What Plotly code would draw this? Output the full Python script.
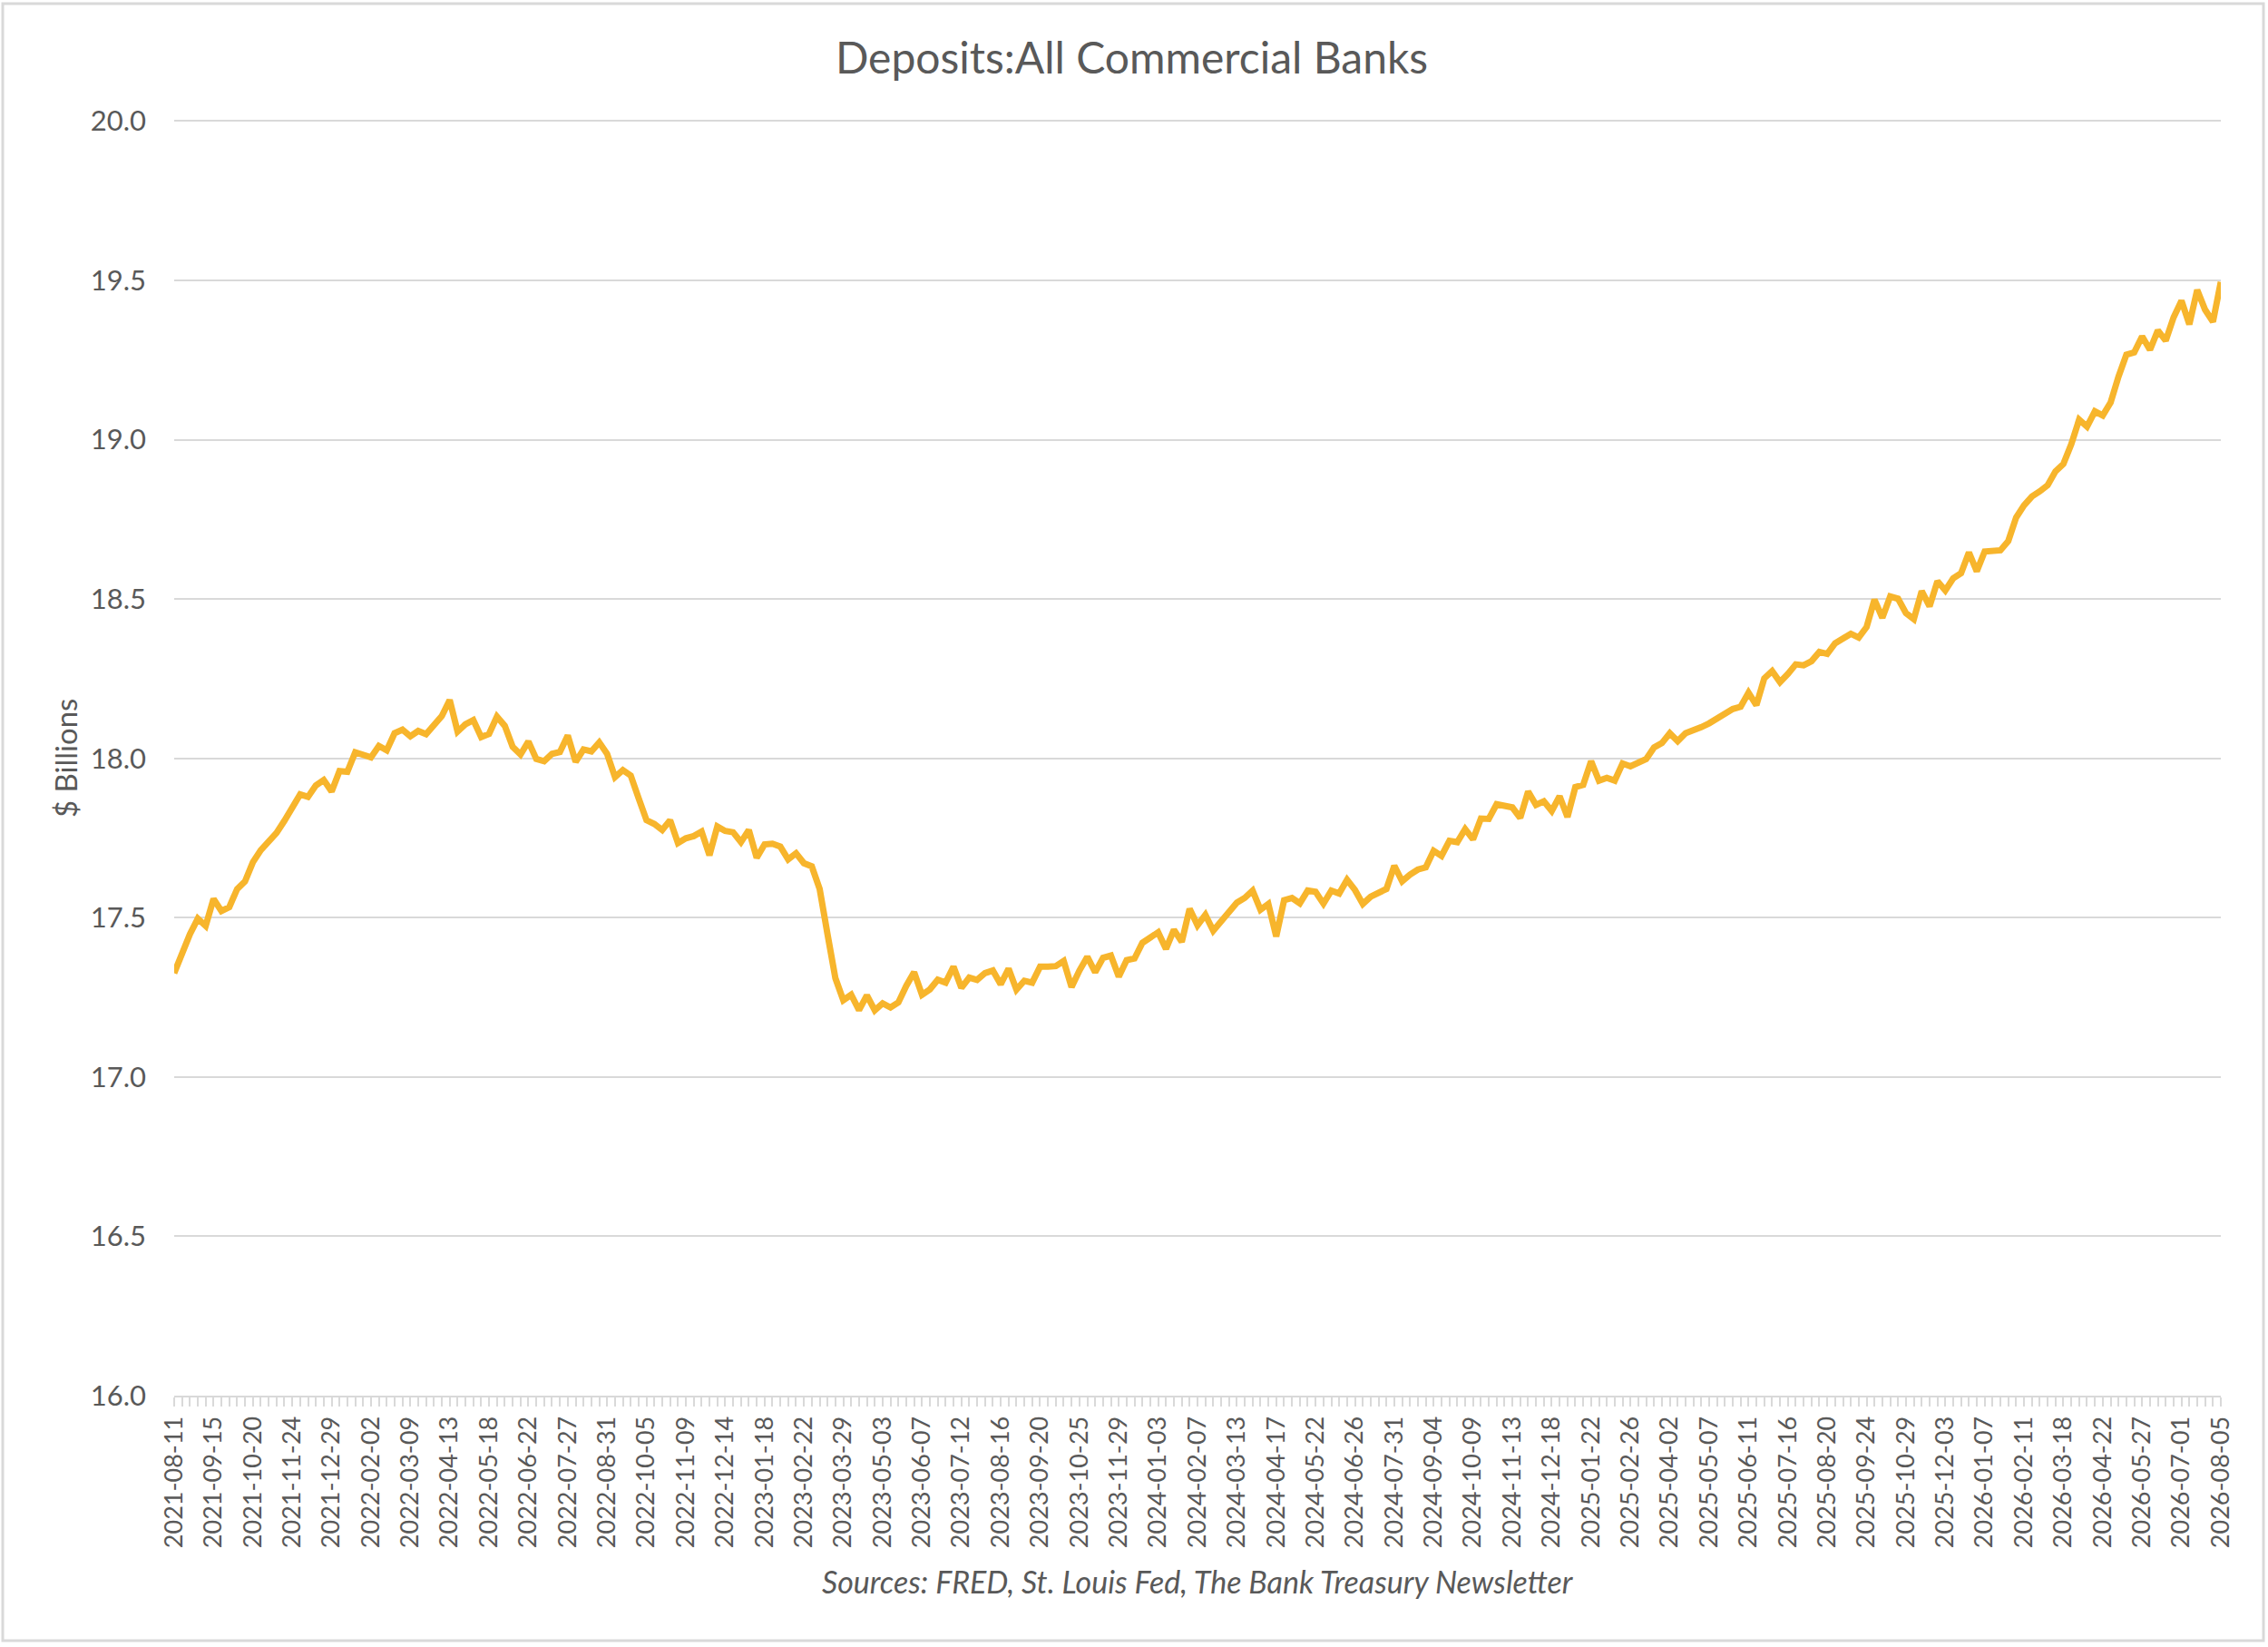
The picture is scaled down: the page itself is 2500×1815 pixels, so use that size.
import plotly.graph_objects as go
import pandas as pd

# ---------------- data ----------------
start_date = "2021-08-11"   # first weekly observation (Wednesdays)

deposits = [
    17.326, 17.391, 17.448, 17.497, 17.474, 17.559, 17.521, 17.533, 17.590, 17.614,
    17.674, 17.712, 17.737, 17.766, 17.804, 17.848, 17.887, 17.879, 17.915, 17.932,
    17.896, 17.960, 17.958, 18.019, 18.009, 18.003, 18.039, 18.025, 18.079, 18.090,
    18.069, 18.086, 18.076, 18.102, 18.133, 18.183, 18.084, 18.107, 18.120, 18.067,
    18.077, 18.131, 18.102, 18.036, 18.012, 18.053, 17.998, 17.991, 18.014, 18.020,
    18.072, 17.989, 18.028,
    18.022, 18.050, 18.014, 17.941, 17.963, 17.946, 17.875, 17.806, 17.794, 17.775,
    17.806, 17.734, 17.749, 17.756, 17.770, 17.696, 17.786, 17.772, 17.768, 17.737,
    17.775, 17.688, 17.730, 17.732, 17.723, 17.683, 17.702, 17.671, 17.661, 17.590,
    17.448, 17.310, 17.241, 17.258, 17.210, 17.256, 17.209, 17.231, 17.218, 17.234,
    17.286, 17.329, 17.258, 17.275, 17.305, 17.296, 17.346, 17.280, 17.312, 17.305,
    17.326, 17.334,
    17.291, 17.340, 17.274, 17.302, 17.296, 17.346, 17.346, 17.348, 17.364, 17.282,
    17.334, 17.377, 17.329, 17.374, 17.381, 17.315, 17.367, 17.372, 17.421, 17.438,
    17.454, 17.402, 17.462, 17.424, 17.528, 17.476, 17.509, 17.459, 17.490, 17.524,
    17.547, 17.562, 17.585, 17.525, 17.543, 17.441, 17.555, 17.562, 17.545, 17.585,
    17.581, 17.544, 17.585, 17.576, 17.619, 17.587, 17.543, 17.566, 17.576, 17.590,
    17.663, 17.614,
    17.635, 17.651, 17.658, 17.710, 17.694, 17.741, 17.737, 17.778, 17.746, 17.811,
    17.810, 17.856, 17.851, 17.846, 17.813, 17.896, 17.854, 17.865, 17.835, 17.881,
    17.816, 17.910, 17.917, 17.991, 17.930, 17.939, 17.930, 17.984, 17.975, 17.984,
    17.998, 18.034, 18.048, 18.079, 18.054, 18.079, 18.086, 18.098, 18.110, 18.127,
    18.144, 18.155, 18.162, 18.206, 18.167, 18.251, 18.274, 18.239, 18.265, 18.295,
    18.292, 18.305,
    18.334, 18.328, 18.361, 18.376, 18.391, 18.379, 18.412, 18.498, 18.441, 18.508,
    18.501, 18.456, 18.437, 18.525, 18.477, 18.556, 18.527, 18.565, 18.581, 18.646,
    18.587, 18.649, 18.651, 18.653, 18.682, 18.756, 18.794, 18.822, 18.838, 18.857,
    18.901, 18.924, 18.986, 19.063, 19.041, 19.089, 19.076, 19.117, 19.198, 19.267,
    19.274, 19.324, 19.282, 19.343, 19.311, 19.384, 19.436, 19.362, 19.470, 19.408,
    19.370, 19.495,
]

tick_labels = [
    "2021-08-11", "2021-09-15", "2021-10-20", "2021-11-24", "2021-12-29",
    "2022-02-02", "2022-03-09", "2022-04-13", "2022-05-18", "2022-06-22",
    "2022-07-27", "2022-08-31", "2022-10-05", "2022-11-09", "2022-12-14",
    "2023-01-18", "2023-02-22", "2023-03-29", "2023-05-03", "2023-06-07",
    "2023-07-12", "2023-08-16", "2023-09-20", "2023-10-25", "2023-11-29",
    "2024-01-03", "2024-02-07", "2024-03-13", "2024-04-17", "2024-05-22",
    "2024-06-26", "2024-07-31", "2024-09-04", "2024-10-09", "2024-11-13",
    "2024-12-18", "2025-01-22", "2025-02-26", "2025-04-02", "2025-05-07",
    "2025-06-11", "2025-07-16", "2025-08-20", "2025-09-24", "2025-10-29",
    "2025-12-03", "2026-01-07", "2026-02-11", "2026-03-18", "2026-04-22",
    "2026-05-27", "2026-07-01", "2026-08-05",
]

y_ticks = [16.0, 16.5, 17.0, 17.5, 18.0, 18.5, 19.0, 19.5, 20.0]

title_text = "Deposits:All Commercial Banks"
y_title = "$ Billions"
source_text = "Sources: FRED, St. Louis Fed, The Bank Treasury Newsletter"

# ---------------- build ----------------
dates = pd.date_range(start_date, periods=len(deposits), freq="7D").strftime("%Y-%m-%d").tolist()
label_set = set(tick_labels)
tick_text = [d if d in label_set else "" for d in dates]

TEXT = "#595959"
GRID = "#d9d9d9"
FONT = "Lato"

W, H = 2500, 1815
L, R, T, B = 192, 52, 132, 277
pw = W - L - R
ph = H - T - B
Y_TOP = 20.004   # tiny headroom so the 20.0 gridline is drawn

def px_x(px):
    return (px - L) / pw

def px_y(py):
    return (H - B - py) / ph

fig = go.Figure()
fig.add_trace(go.Scatter(
    x=dates, y=deposits, mode="lines",
    line=dict(color="#F7B52C", width=7),
    showlegend=False,
))

fig.update_layout(
    width=W, height=H, autosize=False,
    margin=dict(l=L, r=R, t=T, b=B, pad=0),
    paper_bgcolor="white", plot_bgcolor="white",
    font=dict(family=FONT, color=TEXT),
    title=dict(text=title_text, x=0.499, xref="container", xanchor="center",
               y=1 - 64 / H, yref="container", yanchor="middle",
               font=dict(family=FONT, size=48, color=TEXT)),
    xaxis=dict(
        type="category", range=[0, len(dates) - 1],
        tickmode="array", tickvals=dates, ticktext=tick_text,
        tickangle=-90, ticks="outside", ticklen=10, tickwidth=1.5, tickcolor=GRID,
        showline=True, linecolor=GRID, linewidth=2,
        showgrid=False, zeroline=False,
        tickfont=dict(family=FONT, size=27, color=TEXT),
    ),
    yaxis=dict(
        range=[16, Y_TOP], tickmode="array", tickvals=y_ticks,
        ticktext=[f"{v:.1f}" for v in y_ticks],
        showgrid=True, gridcolor=GRID, gridwidth=2,
        zeroline=False, showline=False, ticks="",
        ticklabelstandoff=30,
        tickfont=dict(family=FONT, size=31, color=TEXT),
    ),
    annotations=[
        dict(text=y_title, textangle=-90, x=px_x(72), y=px_y(836),
             xref="paper", yref="paper", showarrow=False,
             xanchor="center", yanchor="middle",
             font=dict(family=FONT, size=33, color=TEXT)),
        dict(text="<i>" + source_text + "</i>", x=0.5, y=px_y(1743),
             xref="paper", yref="paper", showarrow=False,
             xanchor="center", yanchor="middle",
             font=dict(family=FONT, size=34, color=TEXT)),
    ],
    shapes=[
        dict(type="rect", xref="paper", yref="paper",
             x0=px_x(3), x1=px_x(2495), y0=px_y(1808), y1=px_y(4),
             line=dict(color=GRID, width=3), fillcolor="rgba(0,0,0,0)", layer="below"),
    ],
)

fig.write_html(
    "out.html",
    config={"displayModeBar": False},
    post_script="document.body.style.margin='0';document.body.style.overflow='hidden';",
)
